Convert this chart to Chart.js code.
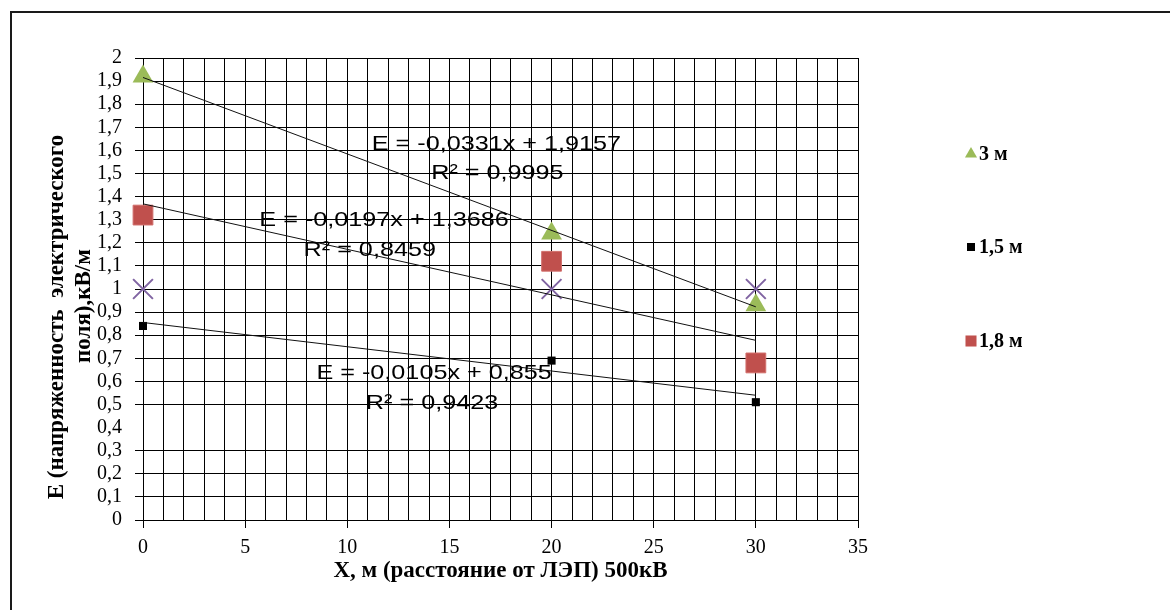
<!DOCTYPE html>
<html>
<head>
<meta charset="utf-8">
<script src="https://cdn.jsdelivr.net/npm/chart.js@4.4.1/dist/chart.umd.min.js"></script>
<style>
  html, body { margin: 0; padding: 0; background: #fff; }
  canvas { display: block; }
</style>
</head>
<body>
<canvas id="grafico" width="1170" height="610"></canvas>
<script>
// расстояние от ЛЭП, м
const distancias = [0, 20, 30];
// E, кВ/м на разных высотах
const e3m = [1.92, 1.24, 0.93];
const e15m = [0.84, 0.69, 0.51];
const e18m = [1.32, 1.12, 0.68];
const eCruz = [1, 1, 1]; // серия без подписи в легенде

const nombresSeries = ['3 м', '1,5 м', '1,8 м'];

// линии тренда (как в подписях на графике)
const pendientes = [-0.0331, -0.0105, -0.0197];
const intercepciones = [1.9157, 0.855, 1.3686];
const textoEcuacion = ['E = -0,0331x + 1,9157', 'E = -0,0105x + 0,855', 'E = -0,0197x + 1,3686'];
const textoR2 = ['R² = 0,9995', 'R² = 0,9423', 'R² = 0,8459'];

const tituloX = 'X, м (расстояние от ЛЭП) 500кВ';
const tituloY = ['Е (напряженность  электрического', 'поля),кВ/м'];

const SERIF = "'Liberation Serif', 'Times New Roman', serif";
const SANS = "'Liberation Sans', Arial, sans-serif";

const puntos = (ys) => distancias.map((x, i) => ({ x: x, y: ys[i] }));
const tendencia = (k) => {
    const xMax = distancias[distancias.length - 1];
    return [
        { x: 0, y: intercepciones[k] },
        { x: xMax, y: intercepciones[k] + pendientes[k] * xMax }
    ];
};

// posición de las etiquetas de ecuaciones (en unidades de los ejes)
const posEcuacion = [{ x: 17.3, y: 1.636 }, { x: 14.25, y: 0.641 }, { x: 11.8, y: 1.307 }];
const posR2 = [{ x: 17.35, y: 1.508 }, { x: 14.15, y: 0.515 }, { x: 11.1, y: 1.177 }];

const marco = {
    id: 'marco',
    beforeDraw(chart) {
        const ctx = chart.ctx;
        ctx.save();
        ctx.strokeStyle = '#1a1a1a';
        ctx.lineWidth = 2;
        ctx.strokeRect(11, 12, 1300, 800);
        ctx.restore();
    }
};

const ecuaciones = {
    id: 'ecuaciones',
    afterDatasetsDraw(chart) {
        const ctx = chart.ctx;
        const sx = chart.scales.x, sy = chart.scales.y;
        ctx.save();
        ctx.fillStyle = '#000';
        ctx.font = '21px ' + SANS;
        ctx.textAlign = 'center';
        ctx.textBaseline = 'alphabetic';
        const escribir = (txt, p) => {
            ctx.save();
            ctx.translate(sx.getPixelForValue(p.x), sy.getPixelForValue(p.y) + 7.5);
            ctx.scale(1.2, 1);
            ctx.fillText(txt, 0, 0);
            ctx.restore();
        };
        for (let k = 0; k < textoEcuacion.length; k++) {
            escribir(textoEcuacion[k], posEcuacion[k]);
            escribir(textoR2[k], posR2[k]);
        }
        ctx.restore();
    }
};

const ejeY = {
    id: 'ejeY',
    afterDraw(chart) {
        const ctx = chart.ctx;
        ctx.save();
        ctx.fillStyle = '#000';
        ctx.font = 'bold 23px ' + SERIF;
        ctx.textAlign = 'center';
        ctx.textBaseline = 'middle';
        const lineas = [{ x: 57, y: 317 }, { x: 84, y: 306 }];
        tituloY.forEach((t, i) => {
            ctx.save();
            ctx.translate(lineas[i].x, lineas[i].y);
            ctx.rotate(-Math.PI / 2);
            ctx.fillText(t, 0, 0);
            ctx.restore();
        });
        ctx.restore();
    }
};

const leyenda = {
    id: 'leyenda',
    afterDraw(chart) {
        const ctx = chart.ctx;
        const items = [
            { style: 'triangle', color: '#9BBB59', r: 7, y: 154 },
            { style: 'rect', color: '#000000', r: 5.7, y: 247 },
            { style: 'rect', color: '#C0504D', r: 7.8, y: 341 }
        ];
        ctx.save();
        items.forEach((it, i) => {
            ctx.fillStyle = it.color;
            ctx.strokeStyle = it.color;
            Chart.helpers.drawPoint(ctx, { pointStyle: it.style, radius: it.r, rotation: 0, borderWidth: 0 }, 971, it.y);
            ctx.fillStyle = '#000';
            ctx.font = 'bold 20px ' + SERIF;
            ctx.textAlign = 'left';
            ctx.textBaseline = 'middle';
            ctx.fillText(nombresSeries[i], 979, it.y + 1);
        });
        ctx.restore();
    }
};

const ctx = document.getElementById('grafico').getContext('2d');
const grafico = new Chart(ctx, {
    type: 'scatter',
    data: {
        datasets: [
            { label: nombresSeries[0], data: puntos(e3m), pointStyle: 'triangle', pointRadius: 12,
              backgroundColor: '#9BBB59', borderColor: '#9BBB59', borderWidth: 0, order: 2, clip: false },
            { label: nombresSeries[1], data: puntos(e15m), pointStyle: 'rect', pointRadius: 5.7,
              backgroundColor: '#000', borderColor: '#000', borderWidth: 0, order: 2, clip: false },
            { label: nombresSeries[2], data: puntos(e18m), pointStyle: 'rect', pointRadius: 14,
              backgroundColor: '#C0504D', borderColor: '#D2706D', borderWidth: 1, order: 2, clip: false },
            { label: 'x', data: puntos(eCruz), pointStyle: 'crossRot', pointRadius: 14,
              backgroundColor: '#8064A2', borderColor: '#8064A2', borderWidth: 2, order: 1, clip: false },
            { label: 'tr1', data: tendencia(0), showLine: true, pointRadius: 0, borderColor: '#111', borderWidth: 1, order: 0 },
            { label: 'tr2', data: tendencia(1), showLine: true, pointRadius: 0, borderColor: '#111', borderWidth: 1, order: 0 },
            { label: 'tr3', data: tendencia(2), showLine: true, pointRadius: 0, borderColor: '#111', borderWidth: 1, order: 0 }
        ]
    },
    options: {
        responsive: false,
        animation: false,
        events: [],
        layout: { padding: { top: 58, right: 312, bottom: 0, left: 0 } },
        plugins: {
            legend: { display: false },
            tooltip: { enabled: false }
        },
        scales: {
            x: {
                type: 'linear',
                min: 0,
                max: 35,
                afterFit: (s) => { s.height = 90; },
                border: { color: '#000', width: 1 },
                grid: {
                    color: '#000',
                    lineWidth: 1,
                    tickLength: 8,
                    tickColor: (c) => (c.tick && c.tick.value % 5 === 0) ? '#000' : 'rgba(0,0,0,0)'
                },
                ticks: {
                    stepSize: 1,
                    autoSkip: false,
                    maxRotation: 0,
                    padding: 8,
                    color: '#000',
                    font: { family: SERIF, size: 20 },
                    callback: (v) => (v % 5 === 0 ? String(v) : '')
                },
                title: {
                    display: true,
                    text: tituloX,
                    color: '#000',
                    font: { family: SERIF, size: 23, weight: 'bold' },
                    padding: { top: 0, bottom: 25 }
                }
            },
            y: {
                type: 'linear',
                min: 0,
                max: 2,
                afterFit: (s) => { s.width = 143; },
                border: { color: '#000', width: 1 },
                grid: {
                    color: (c) => (c.tick && Math.abs(c.tick.value - 0.4) < 1e-6) ? 'rgba(0,0,0,0)' : '#000',
                    lineWidth: 1,
                    tickLength: 8
                },
                ticks: {
                    stepSize: 0.1,
                    autoSkip: false,
                    padding: 13,
                    color: '#000',
                    font: { family: SERIF, size: 20 },
                    callback: (v) => String(Math.round(v * 10) / 10).replace('.', ',')
                }
            }
        }
    },
    plugins: [marco, ecuaciones, ejeY, leyenda]
});
</script>
</body>
</html>
